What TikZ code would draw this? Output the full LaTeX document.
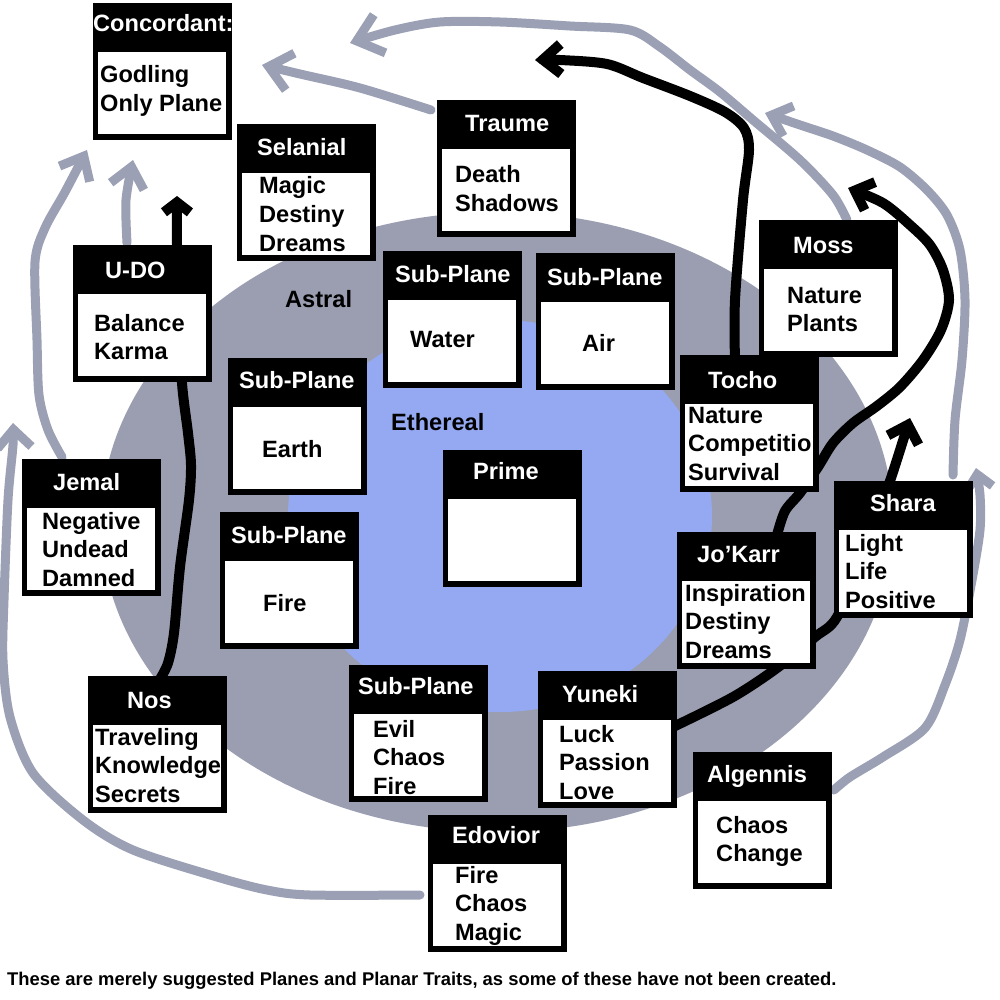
\documentclass[tikz,border=0pt]{standalone}
\usepackage{fontspec}
\setmainfont{Liberation Sans}
\usetikzlibrary{arrows.meta}
\pgfdeclarelayer{bg}
\pgfdeclarelayer{lines}
\pgfsetlayers{bg,lines,main}
\definecolor{astralgray}{RGB}{154,158,176}
\definecolor{etherblue}{RGB}{148,169,242}
\definecolor{arrowgray}{RGB}{155,160,180}
\tikzset{
  outerbox/.style={rectangle, fill=black, minimum width=139pt, minimum height=137pt, inner sep=0pt, outer sep=0pt},
  innerbox/.style={rectangle, fill=white, minimum width=128pt, minimum height=82pt, inner sep=0pt, outer sep=0pt},
  hdrtext/.style={anchor=base west, inner sep=0pt, text=white, font=\bfseries\fontsize{23.6}{28}\selectfont},
  bodytext/.style={anchor=base west, inner sep=0pt, text=black, font=\bfseries\fontsize{23.6}{28}\selectfont},
  grayline/.style={draw=arrowgray, line width=9pt, line cap=round, line join=round},
  blackline/.style={draw=black, line width=10pt, line cap=round, line join=round},
}
% name, x, y (top-left), header x, header baseline, header text
\newcommand{\pbox}[6]{%
  \node[outerbox] (#1) at ({#2+69.5},{#3+68.5}) {};
  \node[innerbox] (#1-in) at ({#2+69},{#3+90}) {};
  \node[hdrtext] (#1-h) at (#4,#5) {#6};
}
% name, x, first baseline, lines
\newcommand{\pbody}[4]{%
  \foreach \t [count=\i] in {#4} {\node[bodytext] (#1-l\i) at (#2,{#3+(\i-1)*28.7}) {\t};}
}
\begin{document}
\begin{tikzpicture}[x=1pt,y=-1pt]
\useasboundingbox (0,0) rectangle (1000,1000);
\begin{pgfonlayer}{bg}
  \fill[white] (0,0) rectangle (1000,1000);
  \fill[astralgray] (497,522) ellipse [x radius=396pt, y radius=310pt];
  \fill[etherblue] (500,516) ellipse [x radius=212pt, y radius=196pt];
\end{pgfonlayer}

\node[bodytext] (astral) at (285,307) {Astral};
\node[bodytext] (ethereal) at (391,430) {Ethereal};

\pbox{conc}{93}{3}{93}{32}{Concordant:}
\pbody{conc}{100}{83}{Godling,Only Plane}
\pbox{sela}{237}{124}{257}{156}{Selanial}
\pbody{sela}{259}{194}{Magic,Destiny,Dreams}
\pbox{trau}{437}{100}{465}{132}{Traume}
\pbody{trau}{455}{183}{Death,Shadows}
\pbox{udo}{73}{245}{105}{278}{U-DO}
\pbody{udo}{94}{331}{Balance,Karma}
\pbox{moss}{759}{220}{793}{253}{Moss}
\pbody{moss}{787}{303}{Nature,Plants}
\pbox{water}{383}{251}{395}{282}{Sub-Plane}
\pbody{water}{410}{347}{Water}
\pbox{air}{536}{253}{547}{285}{Sub-Plane}
\pbody{air}{582}{351}{Air}
\pbox{tocho}{680}{355}{708}{388}{Tocho}
\pbody{tocho}{688}{423}{Nature,Competitio,Survival}
\pbox{earth}{228}{358}{239}{388}{Sub-Plane}
\pbody{earth}{262}{457}{Earth}
\pbox{prime}{443}{450}{473}{479}{Prime}
\pbox{jemal}{22}{459}{53}{490}{Jemal}
\pbody{jemal}{42}{529}{Negative,Undead,Damned}
\pbox{fire}{220}{512}{231}{543}{Sub-Plane}
\pbody{fire}{263}{611}{Fire}
\pbox{shara}{834}{481}{870}{511}{Shara}
\pbody{shara}{845}{551}{Light,Life,Positive}
\pbox{jokarr}{677}{532}{697}{562}{Jo’Karr}
\pbody{jokarr}{685}{601}{Inspiration,Destiny,Dreams}
\pbox{nos}{88}{676}{127}{708}{Nos}
\pbody{nos}{95}{745}{Traveling,Knowledge,Secrets}
\pbox{evil}{349}{665}{358}{694}{Sub-Plane}
\pbody{evil}{373}{737}{Evil,Chaos,Fire}
\pbox{yuneki}{538}{671}{562}{702}{Yuneki}
\pbody{yuneki}{559}{742}{Luck,Passion,Love}
\pbox{edov}{428}{815}{452}{843}{Edovior}
\pbody{edov}{455}{883}{Fire,Chaos,Magic}
\pbox{algen}{693}{752}{707}{782}{Algennis}
\pbody{algen}{716}{833}{Chaos,Change}

\node[anchor=base west, inner sep=0pt, font=\bfseries\fontsize{18.4}{22}\selectfont] (note) at (7,985)
  {These are merely suggested Planes and Planar Traits, as some of these have not been created.};

\begin{pgfonlayer}{lines}
  \coordinate (tg1) at (262,65);
  \coordinate (tg2) at (350,43);
  \coordinate (tg3) at (765,113);
  \coordinate (tg4) at (976,468);
  \coordinate (tg5) at (13,423);
  \coordinate (tg6) at (87,150);
  \coordinate (tg7) at (133,160);
  \coordinate (tb1) at (535,60);
  \coordinate (tb2) at (910,418);
  \coordinate (tb3) at (848,188);
  \coordinate (tb4) at (177,196);
  % gray connectors
  \draw[grayline,-{Straight Barb[length=22pt,width=38pt]}] plot[smooth] coordinates
    {([xshift=-6pt,yshift=-10pt]trau.north west) (360,88) (300,74) (tg1)};
  \draw[grayline,-{Straight Barb[length=24pt,width=40pt]}] plot[smooth] coordinates
    {([xshift=18.5pt]moss.north) (833,195) (800,160) (753,120) (720,92) (690,70) (660,47) (630,30) (570,26) (500,22) (440,22) (395,30) (tg2)};
  \draw[grayline,-{Straight Barb[length=18pt,width=32pt]}] plot[smooth] coordinates
    {([xshift=-20pt,yshift=6pt]shara.north east) (955,420) (962,360) (965,300) (960,250) (947,215) (927,190) (900,167) (867,150) (833,136) (800,125) (tg3)};
  \draw[grayline,-{Straight Barb[length=14pt,width=26pt]}] plot[smooth] coordinates
    {([xshift=2pt,yshift=30.5pt]algen.east) (850,777) (883,757) (925,728) (945,685) (960,640) (972,580) (980,530) (980,495) (tg4)};
  \draw[grayline,-{Straight Barb[length=18pt,width=34pt]}] plot[smooth] coordinates
    {([xshift=-8pt,yshift=-11.5pt]edov.west) (310,895) (267,890) (217,877) (133,850) (83,820) (33,773) (10,717) (3,660) (4,600) (8,500) (13,445) (tg5)};
  \draw[grayline,-{Straight Barb[length=20pt,width=34pt]}] plot[smooth] coordinates
    {([xshift=-29.5pt,yshift=2pt]jemal.north) (48,430) (39,395) (37,340) (35,262) (45,228) (65,192) (tg6)};
  \draw[grayline,-{Straight Barb[length=20pt,width=34pt]}] plot[smooth] coordinates
    {([xshift=-15.5pt,yshift=2pt]udo.north) (126,200) (tg7)};
  % black connectors
  \draw[blackline,-{Straight Barb[length=18pt,width=30pt]}] plot[smooth] coordinates
    {([xshift=-14.5pt,yshift=-5pt]tocho.north) (735,300) (743,200) (749,150) (744,128) (725,112) (690,96) (643,78) (607,64) (560,60) (tb1)};
  \draw[blackline,-{Straight Barb[length=16pt,width=32pt]}] plot[smooth] coordinates
    {([xshift=-4pt,yshift=12.5pt]yuneki.east) (733,697) (777,668) (815,637) (837,617) (865,550) (890,481) (tb2)};
  \draw[blackline,-{Straight Barb[length=16pt,width=30pt]}] plot[smooth] coordinates
    {([xshift=30.5pt,yshift=-3pt]jokarr.north) (785,511) (800,493) (818,467) (833,443) (853,423) (877,406) (900,387) (923,360) (941,330) (949,300) (943,270) (930,245) (910,225) (883,203) (tb3)};
  \draw[blackline,-{Straight Barb[length=10pt,width=26pt]}] plot[smooth] coordinates
    {([xshift=2pt,yshift=-4pt]nos.north) (168,663) (174,633) (180,567) (189,500) (191,465) (188,433) (182,383) (178,300) (177,245) (tb4)};
\end{pgfonlayer}
\end{tikzpicture}
\end{document}
